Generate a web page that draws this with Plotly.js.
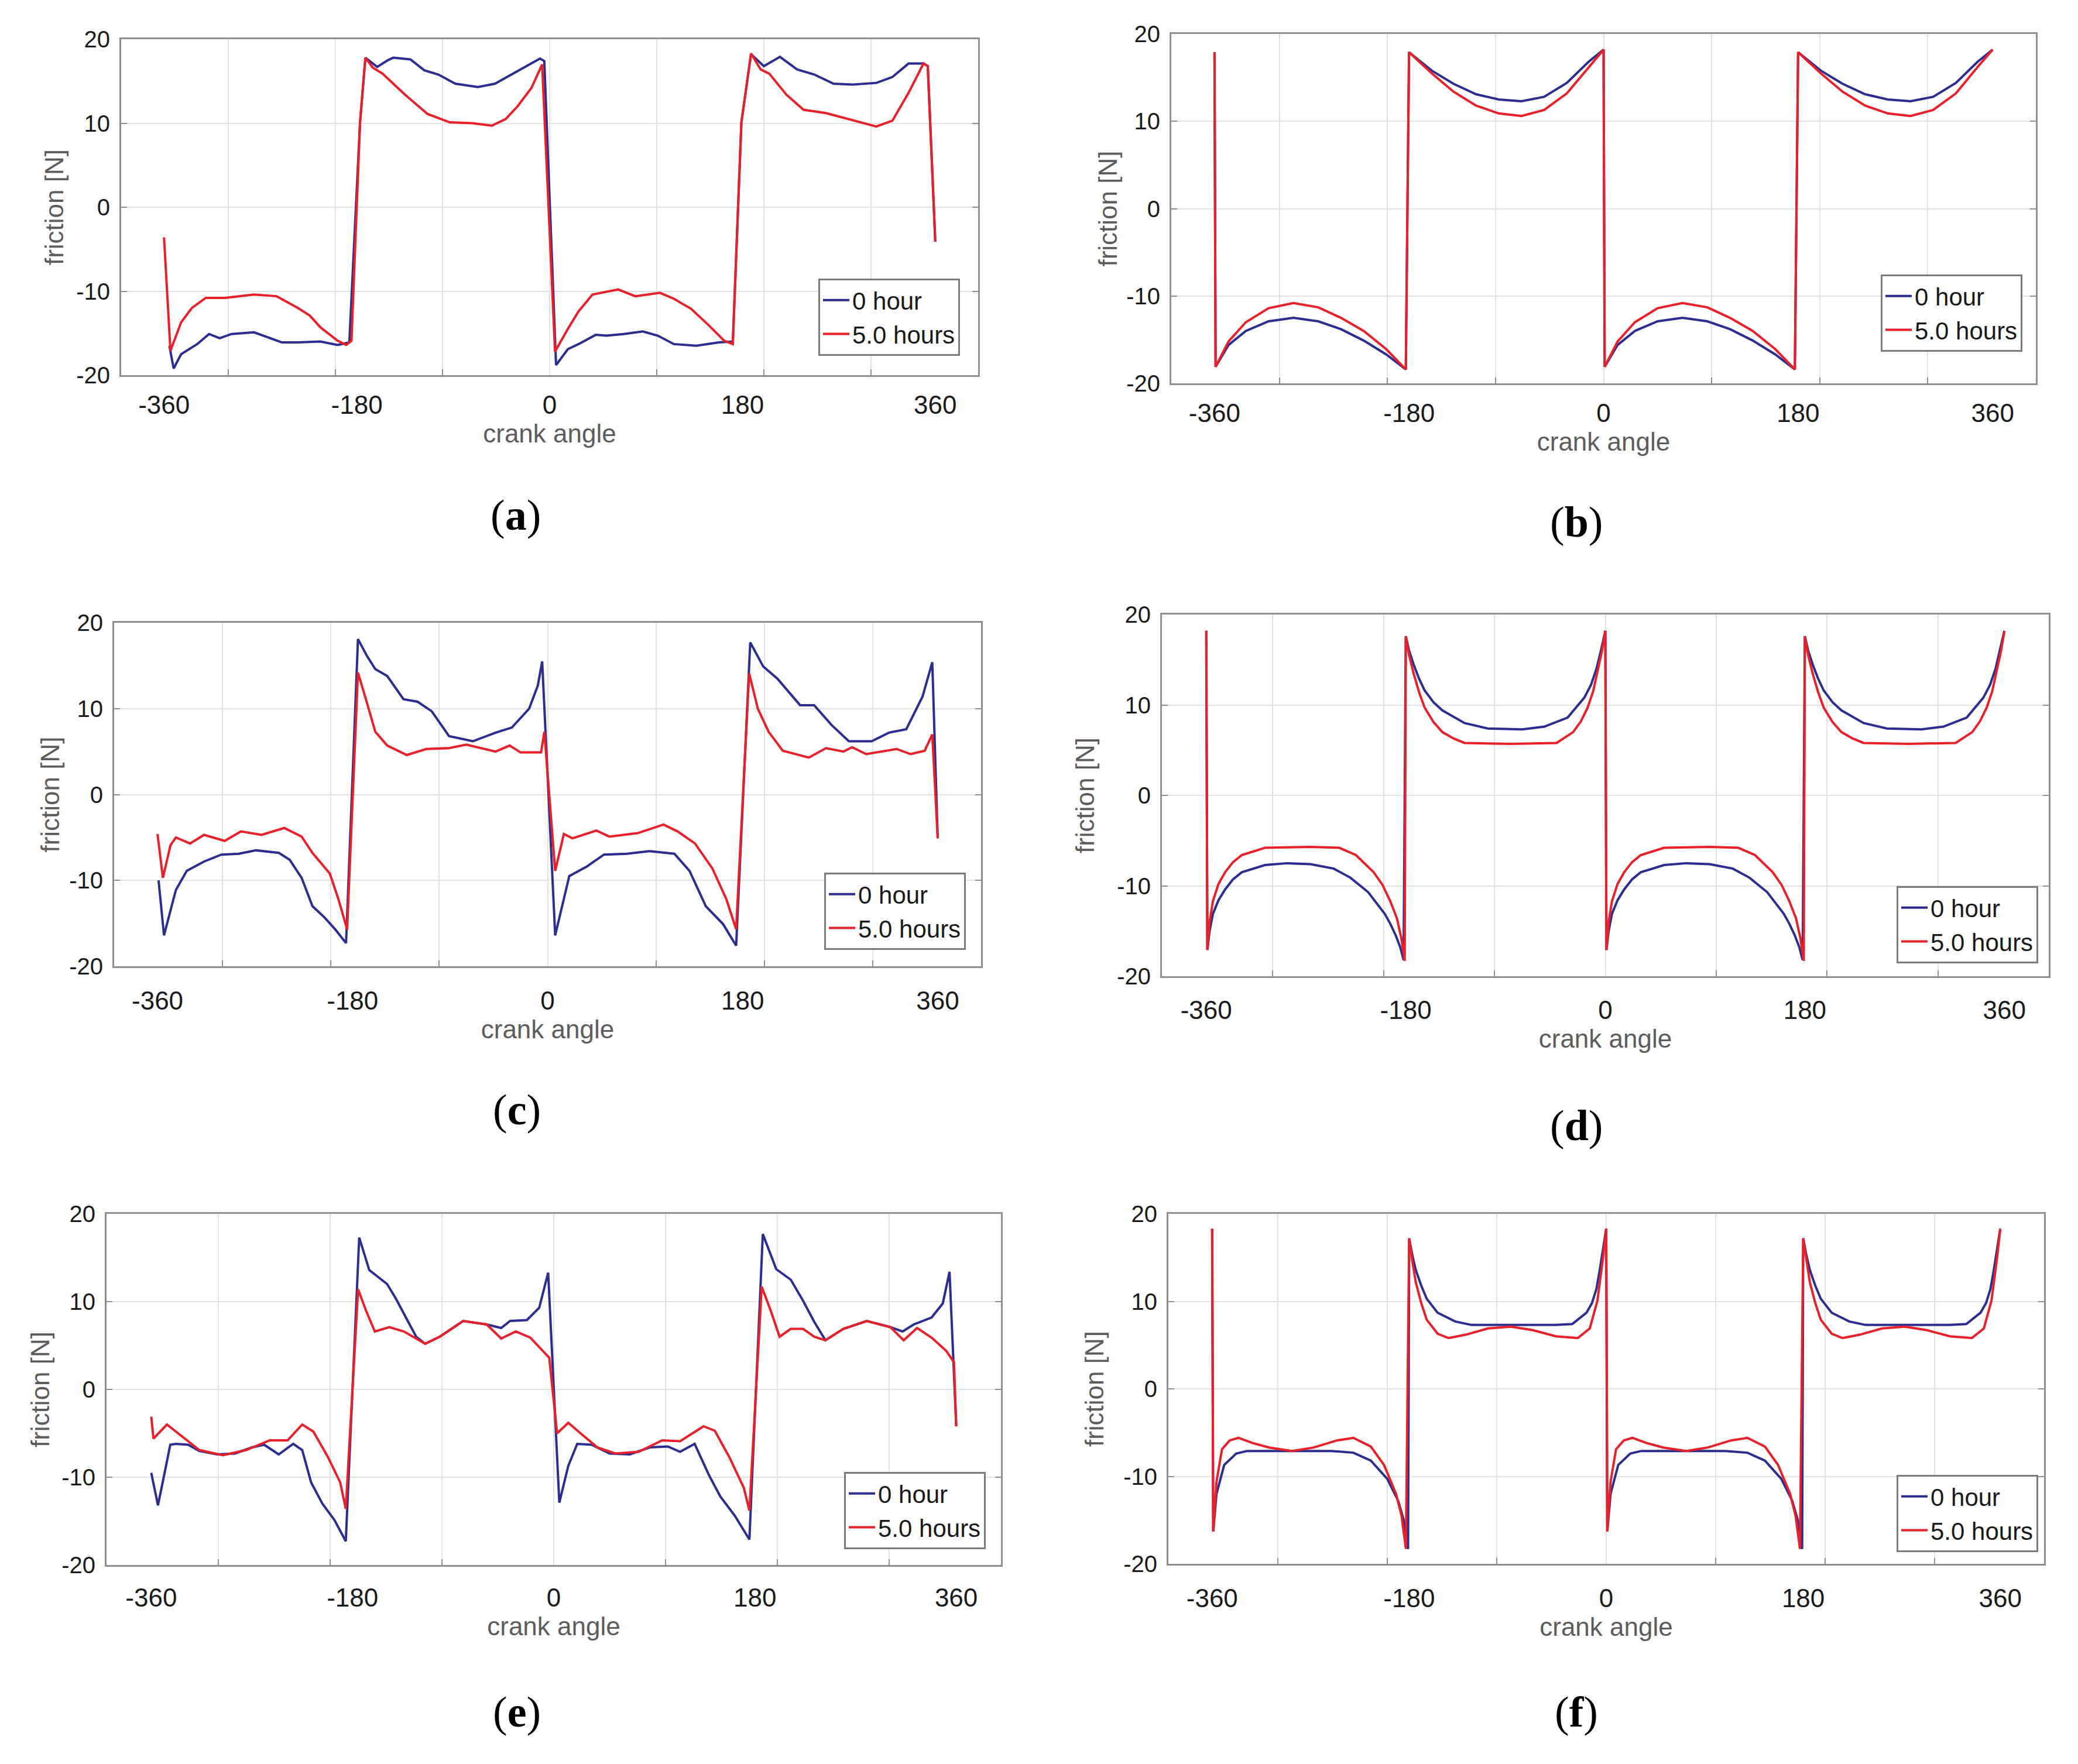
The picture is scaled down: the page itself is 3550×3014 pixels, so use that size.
<!DOCTYPE html>
<html>
<head>
<meta charset="utf-8">
<script src="https://cdn.plot.ly/plotly-3.0.1.min.js"></script>
<style>
html, body { margin: 0; padding: 0; background: #fff; }
#chart { width: 3550px; height: 3014px; }
</style>
</head>
<body>
<div id="chart"></div>
<script>
// values (crank angle in deg, friction in N)
const seriesNames = ['0 hour', '5.0 hours'];
const panelLetters = ['a', 'b', 'c', 'd', 'e', 'f'];
const angleTicks = [-360, -180, 0, 180, 360];
const angleTickText = ['-360', '-180', '0', '180', '360'];
const gridAngles = [-300, -200, -100, 100, 200, 300];
const frictionTicks = [-20, -10, 0, 10, 20];
const frictionTickText = ['-20', '-10', '0', '10', '20'];

// (a) measured
const angleA0 = [-355,-351,-344,-329,-318,-308,-297,-276,-263,-250,-235,-214,-198,-187,-177,-172,-161,-151,-146,-130,-117,-104,-88,-67,-51,-41,-25,-9,-5,6,17,27,43,53,69,87,101,116,137,158,171,179,188,200,215,231,247,265,283,305,320,335,349,353,360];
const frictionA0 = [-16.5,-19.2,-17.5,-16.3,-15.1,-15.6,-15.1,-14.9,-15.5,-16.1,-16.1,-16.0,-16.4,-16.1,10.1,17.8,16.7,17.5,17.8,17.6,16.3,15.8,14.7,14.3,14.7,15.4,16.6,17.7,17.4,-18.8,-16.9,-16.3,-15.2,-15.3,-15.1,-14.8,-15.3,-16.3,-16.5,-16.1,-16.0,10.1,18.2,16.8,17.9,16.4,15.8,14.7,14.6,14.8,15.5,17.1,17.1,16.8,-4.1];
const angleA5 = [-360,-354,-344,-334,-321,-303,-276,-255,-235,-224,-214,-198,-190,-185,-177,-172,-165,-156,-146,-135,-114,-93,-72,-54,-41,-30,-17,-7,5,17,27,40,64,80,103,116,132,148,163,171,179,188,197,205,221,237,258,279,305,320,335,349,353,360];
const frictionA5 = [-3.6,-17.1,-13.7,-12.0,-10.8,-10.8,-10.4,-10.6,-12.0,-12.9,-14.3,-15.9,-16.4,-15.9,10.1,17.8,16.6,15.9,14.7,13.4,11.1,10.1,10.0,9.7,10.5,12.0,14.2,17.0,-17.2,-14.5,-12.4,-10.4,-9.8,-10.6,-10.2,-10.9,-12.1,-14.0,-15.9,-16.3,10.1,18.3,16.4,15.9,13.4,11.6,11.2,10.5,9.6,10.3,13.6,17.1,16.8,-4.1];

// (b) simulated
const angleB0 = [-360,-359,-347,-331,-310,-287,-264,-243,-222,-201,-183,-180,-159,-139,-118,-97,-76,-55,-34,-14,0,1,13,29,50,73,96,117,138,159,177,180,201,221,242,263,284,305,326,346,360];
const frictionB0 = [17.9,-18.1,-15.6,-14.0,-12.9,-12.5,-12.9,-13.8,-15.1,-16.7,-18.4,17.9,15.8,14.3,13.1,12.5,12.3,12.8,14.4,16.8,18.2,-18.1,-15.6,-14.0,-12.9,-12.5,-12.9,-13.8,-15.1,-16.7,-18.4,17.9,15.8,14.3,13.1,12.5,12.3,12.8,14.4,16.8,18.2];
const angleB5 = [-360,-359,-347,-331,-310,-287,-264,-243,-222,-201,-183,-180,-159,-139,-118,-97,-76,-55,-34,-14,0,1,13,29,50,73,96,117,138,159,177,180,201,221,242,263,284,305,326,346,360];
const frictionB5 = [17.9,-18.1,-15.2,-13.0,-11.4,-10.8,-11.3,-12.5,-14.0,-16.1,-18.4,17.9,15.5,13.4,11.8,10.9,10.6,11.3,13.2,16.2,18.2,-18.1,-15.2,-13.0,-11.4,-10.8,-11.3,-12.5,-14.0,-16.1,-18.4,17.9,15.5,13.4,11.8,10.9,10.6,11.3,13.2,16.2,18.2];

// (c) measured
const angleC0 = [-359,-354,-343,-333,-317,-301,-285,-269,-248,-238,-227,-217,-206,-196,-186,-175,-167,-159,-148,-133,-120,-107,-91,-69,-48,-33,-17,-9,-5,7,20,36,52,73,94,117,131,146,162,174,187,199,212,233,246,262,278,299,315,331,346,355,360];
const frictionC0 = [-10.0,-16.4,-11.1,-8.9,-7.8,-7.0,-6.9,-6.5,-6.8,-7.6,-9.7,-13.0,-14.3,-15.7,-17.3,18.1,16.2,14.6,13.8,11.1,10.8,9.7,6.8,6.2,7.2,7.8,10.0,12.7,15.5,-16.4,-9.5,-8.4,-7.0,-6.9,-6.6,-6.9,-8.9,-13.0,-15.1,-17.6,17.7,14.9,13.5,10.4,10.4,8.1,6.2,6.2,7.2,7.6,11.4,15.4,-5.1];
const angleC5 = [-360,-355,-348,-343,-330,-317,-298,-283,-264,-243,-227,-217,-201,-193,-185,-175,-167,-159,-148,-130,-112,-91,-75,-64,-48,-35,-25,-6,-3,7,15,23,45,57,83,107,120,136,152,165,174,186,194,204,217,241,257,273,281,294,322,335,348,355,360];
const frictionC5 = [-4.6,-9.7,-5.9,-5.0,-5.7,-4.7,-5.4,-4.3,-4.7,-3.9,-4.9,-6.8,-9.2,-12.2,-15.7,14.2,10.8,7.3,5.7,4.6,5.3,5.4,5.8,5.5,5.0,5.7,4.9,4.9,7.3,-8.9,-4.6,-5.1,-4.2,-4.9,-4.5,-3.5,-4.3,-5.7,-8.6,-12.2,-15.7,14.1,10.0,7.3,5.1,4.3,5.4,5.0,5.5,4.7,5.3,4.7,5.1,7.0,-5.1];

// (d) simulated
const angleD0 = [-360,-359,-357,-354,-349,-343,-336,-328,-307,-287,-266,-245,-230,-214,-199,-194,-189,-185,-182,-180,-177,-173,-168,-163,-155,-147,-127,-106,-75,-55,-34,-19,-13,-8,-4,0,
                 1,3,6,11,17,24,32,53,73,94,115,130,146,161,166,171,175,178,180,183,187,192,197,205,213,233,254,285,305,326,341,347,352,356,360];
const frictionD0 = [18.2,-17.1,-15.0,-13.1,-11.6,-10.4,-9.3,-8.5,-7.7,-7.5,-7.6,-8.1,-9.1,-10.7,-13.1,-14.2,-15.5,-16.8,-18.2,17.6,16.0,14.5,12.9,11.6,10.3,9.4,8.0,7.4,7.3,7.6,8.6,10.8,12.2,14.0,16.0,18.2,
                    -17.1,-15.0,-13.1,-11.6,-10.4,-9.3,-8.5,-7.7,-7.5,-7.6,-8.1,-9.1,-10.7,-13.1,-14.2,-15.5,-16.8,-18.2,17.6,16.0,14.5,12.9,11.6,10.3,9.4,8.0,7.4,7.3,7.6,8.6,10.8,12.2,14.0,16.0,18.2];
const angleD5 = [-360,-359,-357,-354,-349,-343,-336,-328,-307,-266,-240,-225,-209,-201,-194,-188,-184,-181,-180,-177,-173,-168,-163,-155,-147,-137,-127,-86,-44,-29,-22,-16,-11,-7,-3,0,
                 1,3,6,11,17,24,32,53,94,120,135,151,159,166,172,176,179,180,183,187,192,197,205,213,223,233,274,316,331,338,344,349,353,357,360];
const frictionD5 = [18.2,-17.1,-14.0,-11.7,-9.8,-8.5,-7.4,-6.6,-5.8,-5.7,-5.8,-6.6,-8.5,-9.9,-11.7,-13.6,-15.8,-18.3,17.6,15.5,13.5,11.4,9.7,8.1,7.0,6.3,5.8,5.7,5.8,7.0,8.2,9.7,11.5,13.7,16.0,18.2,
                    -17.1,-14.0,-11.7,-9.8,-8.5,-7.4,-6.6,-5.8,-5.7,-5.8,-6.6,-8.5,-9.9,-11.7,-13.6,-15.8,-18.3,17.6,15.5,13.5,11.4,9.7,8.1,7.0,6.3,5.8,5.7,5.8,7.0,8.2,9.7,11.5,13.7,16.0,18.2];

// (e) measured
const angleE0 = [-360,-354,-349,-343,-338,-327,-317,-301,-285,-270,-259,-246,-233,-225,-217,-207,-196,-186,-174,-165,-149,-141,-131,-123,-115,-102,-81,-60,-47,-39,-24,-13,-5,5,13,21,34,50,68,86,102,113,126,139,149,162,175,187,199,212,223,233,243,259,280,301,312,322,338,348,354,360];
const frictionE0 = [-9.5,-13.2,-10.1,-6.3,-6.2,-6.3,-7.0,-7.4,-7.3,-6.6,-6.3,-7.4,-6.2,-6.9,-10.6,-13.0,-14.9,-17.3,17.3,13.6,12.0,10.3,7.9,6.0,5.2,6.0,7.8,7.4,7.0,7.8,7.9,9.3,13.3,-12.9,-8.7,-6.2,-6.3,-7.3,-7.4,-6.6,-6.5,-7.1,-6.2,-9.8,-12.2,-14.4,-17.1,17.7,13.7,12.5,10.1,7.7,5.6,6.9,7.8,7.1,6.6,7.4,8.2,9.8,13.4,-4.2];
const angleE5 = [-360,-358,-346,-332,-317,-296,-275,-254,-238,-225,-215,-202,-191,-186,-175,-168,-160,-147,-134,-115,-102,-81,-60,-47,-34,-21,-8,-4,3,13,24,39,55,76,97,113,134,144,157,170,175,186,194,202,212,223,233,243,259,280,301,313,325,338,351,358,360];
const frictionE5 = [-3.1,-5.6,-4.0,-5.4,-6.9,-7.5,-6.9,-5.8,-5.8,-4.0,-4.8,-7.7,-10.6,-13.6,11.4,9.0,6.6,7.1,6.6,5.2,6.0,7.8,7.4,5.8,6.6,5.9,4.2,3.6,-5.0,-3.8,-5.0,-6.6,-7.3,-7.1,-5.8,-5.9,-4.2,-4.7,-7.7,-11.2,-13.8,11.7,9.0,6.0,6.9,6.9,6.0,5.6,6.9,7.8,7.1,5.6,7.0,5.9,4.4,3.1,-4.2];

// (f) simulated
const angleF0 = [-360,-359,-356,-349,-338,-328,-292,-251,-231,-215,-200,-190,-185,-181,-180,-177,-174,-169,-164,-154,-138,-123,-87,-46,-31,-18,-13,-9,-6,-3,0,
                 1,4,11,22,32,68,109,129,145,160,170,175,179,180,183,186,191,196,206,222,237,273,314,329,342,347,351,354,357,360];
const frictionF0 = [18.3,-16.3,-12.0,-8.7,-7.4,-7.1,-7.1,-7.1,-7.3,-8.2,-10.3,-12.8,-15.0,-18.3,17.2,15.2,13.6,11.8,10.3,8.7,7.7,7.3,7.3,7.3,7.4,8.7,9.8,11.4,13.5,16.0,18.3,
                    -16.3,-12.0,-8.7,-7.4,-7.1,-7.1,-7.1,-7.3,-8.2,-10.3,-12.8,-15.0,-18.3,17.2,15.2,13.6,11.8,10.3,8.7,7.7,7.3,7.3,7.3,7.4,8.7,9.8,11.4,13.5,16.0,18.3];
const angleF5 = [-360,-359,-356,-351,-344,-336,-323,-308,-287,-267,-246,-231,-215,-203,-192,-187,-183,-180,-177,-174,-169,-164,-154,-144,-128,-108,-87,-67,-46,-26,-15,-8,-3,0,
                 1,4,9,16,24,37,52,73,93,114,129,145,157,168,173,177,180,183,186,191,196,206,216,232,252,273,293,314,334,345,352,357,360];
const frictionF5 = [18.3,-16.3,-10.6,-6.9,-5.9,-5.6,-6.2,-6.7,-7.1,-6.7,-5.9,-5.6,-6.6,-8.7,-12.0,-14.5,-18.3,17.2,14.5,12.2,9.8,7.9,6.3,5.8,6.2,6.9,7.1,6.7,6.0,5.8,6.9,10.1,14.9,18.3,
                    -16.3,-10.6,-6.9,-5.9,-5.6,-6.2,-6.7,-7.1,-6.7,-5.9,-5.6,-6.6,-8.7,-12.0,-14.5,-18.3,17.2,14.5,12.2,9.8,7.9,6.3,5.8,6.2,6.9,7.1,6.7,6.0,5.8,6.9,10.1,14.9,18.3];

const W = 3550, H = 3014;
const BLUE = '#2b2d8f', RED = '#e8202a';
const GRID = '#e2e2e2', FRAME = '#8e8e8e';

// plot boxes in px [left, top, right, bottom], legend corner [right, bottom], caption centre,
// xs / ys = standoff of x tick labels and of y title
const panels = [
  {box: [207, 67, 1671, 641],     leg: [1640, 608],  cap: [881, 880],   xs: 10, ys: 8},
  {box: [2001, 58, 3478, 655],    leg: [3455, 601],  cap: [2693, 892],  xs: 10, ys: 2},
  {box: [195, 1064, 1676, 1651],  leg: [1650, 1623], cap: [883, 1896],  xs: 18, ys: 3},
  {box: [1985, 1050, 3500, 1668], leg: [3482, 1646], cap: [2693, 1923], xs: 17, ys: 25},
  {box: [182, 2074, 1710, 2674],  leg: [1684, 2647], cap: [883, 2925],  xs: 15, ys: 7},
  {box: [1996, 2074, 3492, 2672], leg: [3482, 2652], cap: [2693, 2925], xs: 18, ys: 20}
];

const series = [
  [angleA0, frictionA0, angleA5, frictionA5],
  [angleB0, frictionB0, angleB5, frictionB5],
  [angleC0, frictionC0, angleC5, frictionC5],
  [angleD0, frictionD0, angleD5, frictionD5],
  [angleE0, frictionE0, angleE5, frictionE5],
  [angleF0, frictionF0, angleF5, frictionF5]
];

const traces = [];
const layout = {
  width: W, height: H,
  margin: {l: 0, r: 0, t: 0, b: 0},
  paper_bgcolor: '#fff', plot_bgcolor: '#fff',
  font: {family: 'Liberation Sans, Arial, sans-serif', color: '#1a1a1a'},
  showlegend: true,
  annotations: []
};

panels.forEach(function (p, i) {
  const s = i === 0 ? '' : String(i + 1);
  const d = series[i];
  [0, 1].forEach(function (k) {
    traces.push({
      x: d[2 * k], y: d[2 * k + 1],
      xaxis: 'x' + s, yaxis: 'y' + s, legend: 'legend' + s,
      name: seriesNames[k], mode: 'lines',
      line: {color: k === 0 ? BLUE : RED, width: 4}
    });
  });

  layout['xaxis' + s] = {
    domain: [p.box[0] / W, p.box[2] / W], anchor: 'y' + s,
    range: [-400, 400], tickmode: 'array', tickvals: angleTicks, ticktext: angleTickText,
    ticks: '', showgrid: false, zeroline: true, zerolinecolor: GRID, zerolinewidth: 2,
    showline: true, linecolor: FRAME, linewidth: 3, mirror: true,
    ticklabelstandoff: p.xs, tickfont: {size: 44, color: '#1a1a1a'},
    minor: {tickmode: 'array', tickvals: gridAngles, showgrid: true, gridcolor: GRID, gridwidth: 2,
            ticks: 'inside', ticklen: 10, tickwidth: 2, tickcolor: FRAME},
    title: {text: 'crank angle', font: {size: 44, color: '#5c5c5c'}, standoff: 10}
  };
  layout['yaxis' + s] = {
    domain: [1 - p.box[3] / H, 1 - p.box[1] / H], anchor: 'x' + s,
    range: [-20, 20], tickmode: 'array', tickvals: frictionTicks, ticktext: frictionTickText,
    ticks: 'inside', ticklen: 10, tickwidth: 2, tickcolor: FRAME,
    showgrid: true, gridcolor: GRID, gridwidth: 2, zeroline: false,
    showline: true, linecolor: FRAME, linewidth: 3, mirror: 'ticks',
    ticklabelstandoff: 8, tickfont: {size: 40, color: '#1a1a1a'},
    title: {text: 'friction [N]', font: {size: 44, color: '#5c5c5c'}, standoff: p.ys}
  };
  layout['legend' + s] = {
    x: p.leg[0] / W, y: 1 - p.leg[1] / H, xanchor: 'right', yanchor: 'bottom',
    bgcolor: '#fff', bordercolor: '#7a7a7a', borderwidth: 3,
    font: {size: 42, color: '#1a1a1a'}, itemwidth: 45, tracegroupgap: 0
  };
  layout.annotations.push({
    text: '(<b>' + panelLetters[i] + '</b>)', xref: 'paper', yref: 'paper',
    x: p.cap[0] / W, y: 1 - p.cap[1] / H, xanchor: 'center', yanchor: 'middle',
    showarrow: false, font: {family: 'Liberation Serif, Times New Roman, serif', size: 74, color: '#000'}
  });
});

Plotly.newPlot('chart', traces, layout, {displayModeBar: false, staticPlot: true});
</script>
</body>
</html>
